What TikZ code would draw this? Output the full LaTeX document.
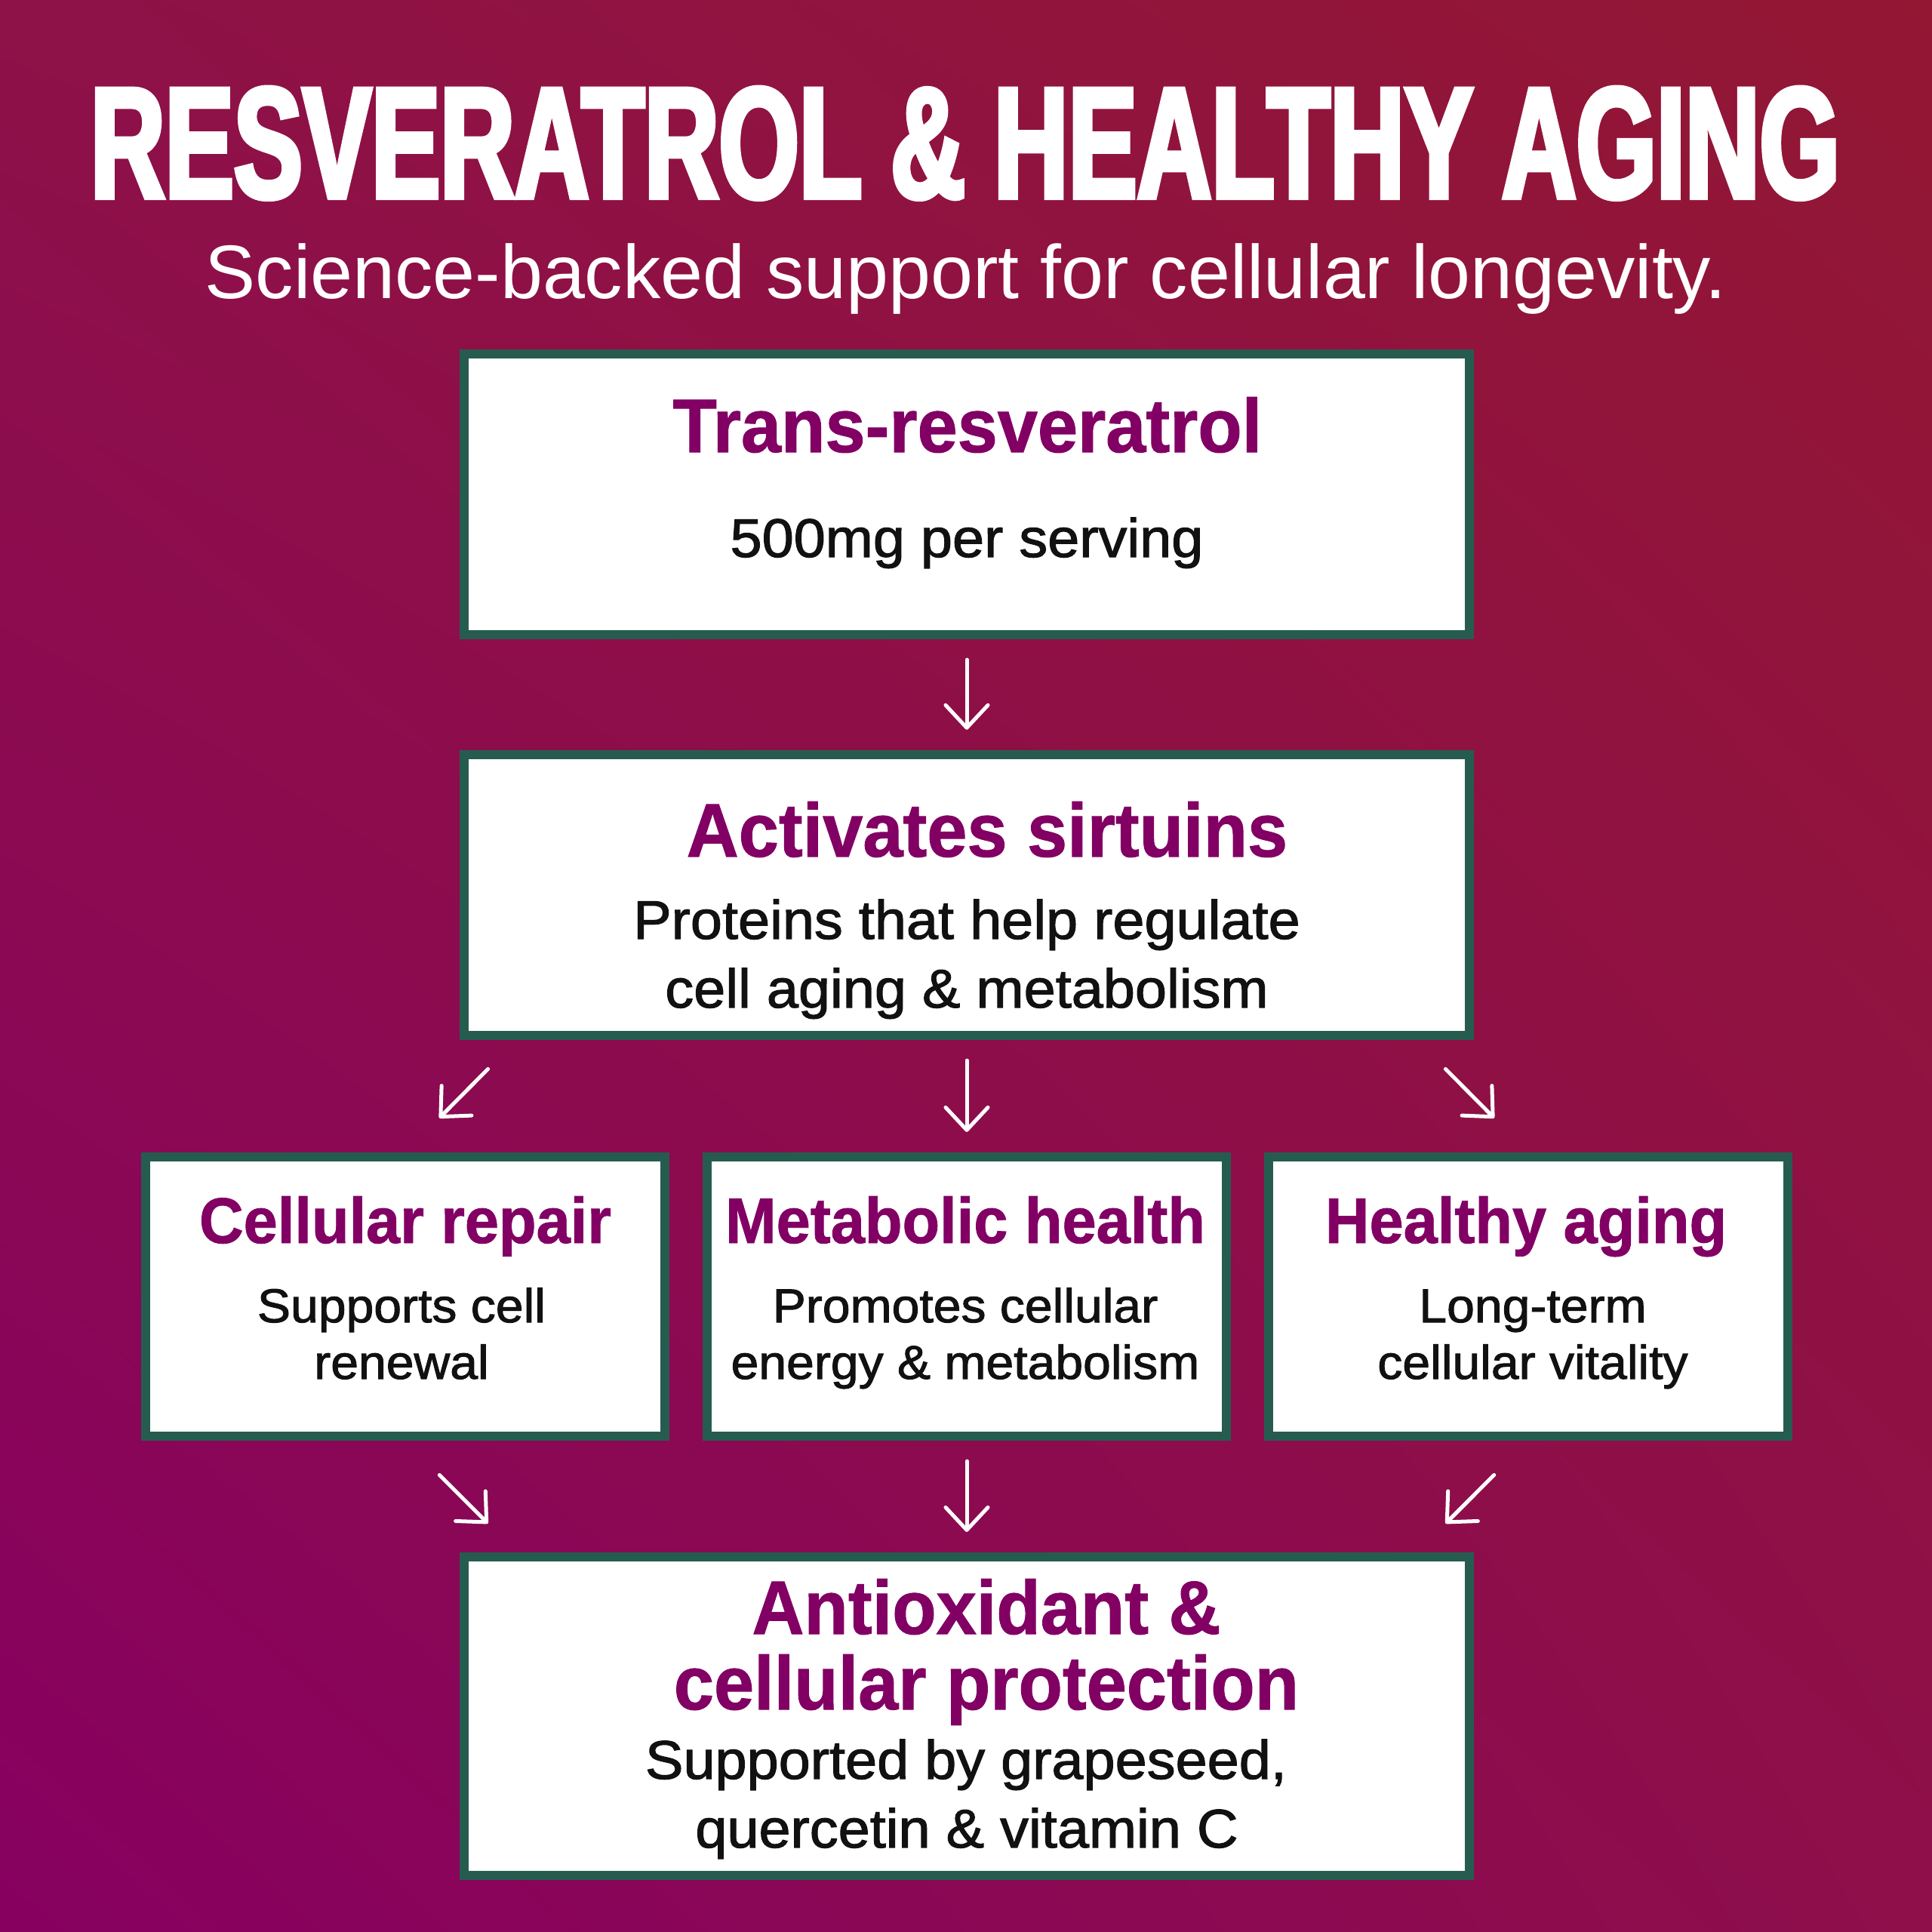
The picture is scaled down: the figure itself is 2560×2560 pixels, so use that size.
\documentclass[tikz,border=0pt]{standalone}
\usepackage{fontspec}
\setmainfont{Liberation Sans}
\newfontfamily\bannerfont{Liberation Sans}[FakeStretch=0.652,BoldFeatures={FakeBold=3}]
\newfontfamily\headfont{Liberation Sans}[FakeStretch=0.95,BoldFeatures={FakeBold=1}]
\newfontfamily\bodyfont{Liberation Sans}[FakeStretch=1.05,FakeBold=1.6]
\usetikzlibrary{arrows.meta,shadings}
\definecolor{bgul}{HTML}{8E1148}
\definecolor{bgur}{HTML}{931733}
\definecolor{bgll}{HTML}{870060}
\definecolor{bglr}{HTML}{8E0F4A}
\definecolor{cardline}{HTML}{265C4F}
\definecolor{plum}{HTML}{820064}
\definecolor{ink}{HTML}{111111}
\tikzset{
  card/.style={draw=cardline, line width=0.12cm, fill=white, inner sep=0pt,
    minimum width=13.32cm, minimum height=#1},
  card/.default={3.72cm},
  tile/.style={draw=cardline, line width=0.12cm, fill=white, inner sep=0pt,
    minimum width=6.88cm, minimum height=3.70cm},
  banner/.style={text=white, anchor=base, inner sep=0pt,
    font=\bannerfont\bfseries\fontsize{59.6}{60}\selectfont},
  tagline/.style={text=white, anchor=base, inner sep=0pt,
    font=\fontsize{28.6}{30}\selectfont},
  cardhead/.style={text=plum, anchor=base, inner sep=0pt,
    font=\headfont\bfseries\fontsize{28.6}{30}\selectfont},
  cardtext/.style={text=ink, anchor=base, inner sep=0pt,
    font=\bodyfont\fontsize{20.5}{22}\selectfont},
  tilehead/.style={text=plum, anchor=base, inner sep=0pt,
    font=\headfont\bfseries\fontsize{24.3}{26}\selectfont},
  tiletext/.style={text=ink, anchor=base, inner sep=0pt,
    font=\bodyfont\fontsize{17.9}{19}\selectfont},
  flow/.style={white, line width=0.05cm, line cap=round,
    -{Straight Barb[round, length=0.3cm, width=0.56cm]},
    shorten <=0.27cm, shorten >=0.27cm},
  slant/.style={flow, shorten <=#1, shorten >=1.18cm-#1}
}
\begin{document}
\begin{tikzpicture}[x=0.01cm,y=-0.01cm]
% background
\shade[upper left=bgul, upper right=bgur, lower left=bgll, lower right=bglr]
  (0,0) rectangle (2560,2560);

% heading
\node[banner] (title) at (1279,262) {RESVERATROL \& HEALTHY AGING};
\node[tagline] (sub) at (1280,395) {Science-backed support for cellular longevity.};

% cards
\node[card] (res) at (1281,655) {};
\node[card] (sir) at (1281,1186) {};
\node[tile] (rep) at (537,1718) {};
\node[tile] (met) at (1281,1718) {};
\node[tile] (age) at (2025,1718) {};
\node[card=4.22cm] (anti) at (1281,2274) {};

% card texts
\node[cardhead] (res-t) at (1282,599) {Trans-resveratrol};
\node[cardtext] (res-b) at (1281,738) {500mg per serving};

\node[cardhead] (sir-t) at (1308,1135) {Activates sirtuins};
\node[cardtext] (sir-b1) at (1281,1244) {Proteins that help regulate};
\node[cardtext] (sir-b2) at (1281,1335) {cell aging \& metabolism};

\node[tilehead] (rep-t) at (537,1647) {Cellular repair};
\node[tiletext] (rep-b1) at (532,1752) {Supports cell};
\node[tiletext] (rep-b2) at (532,1827) {renewal};

\node[tilehead] (met-t) at (1279,1647) {Metabolic health};
\node[tiletext] (met-b1) at (1279,1752) {Promotes cellular};
\node[tiletext] (met-b2) at (1279,1827) {energy \& metabolism};

\node[tilehead] (age-t) at (2022,1647) {Healthy aging};
\node[tiletext] (age-b1) at (2031,1752) {Long-term};
\node[tiletext] (age-b2) at (2031,1827) {cellular vitality};

\node[cardhead] (anti-t1) at (1307,2165) {Antioxidant \&};
\node[cardhead] (anti-t2) at (1307,2265) {cellular protection};
\node[cardtext] (anti-b1) at (1280,2357) {Supported by grapeseed,};
\node[cardtext] (anti-b2) at (1281,2448) {quercetin \& vitamin C};

% arrows
\draw[flow] (res) -- (sir);
\draw[flow] (sir) -- (met);
\draw[flow] (met) -- (anti);
\draw[slant=0.54cm] ([xshift=-5.96cm]sir.south) -- (rep.north);
\draw[slant=0.54cm] ([xshift=5.96cm]sir.south) -- (age.north);
\draw[slant=0.64cm] (rep.south) -- ([xshift=-5.96cm]anti.north);
\draw[slant=0.64cm] (age.south) -- ([xshift=5.96cm]anti.north);
\end{tikzpicture}
\end{document}
